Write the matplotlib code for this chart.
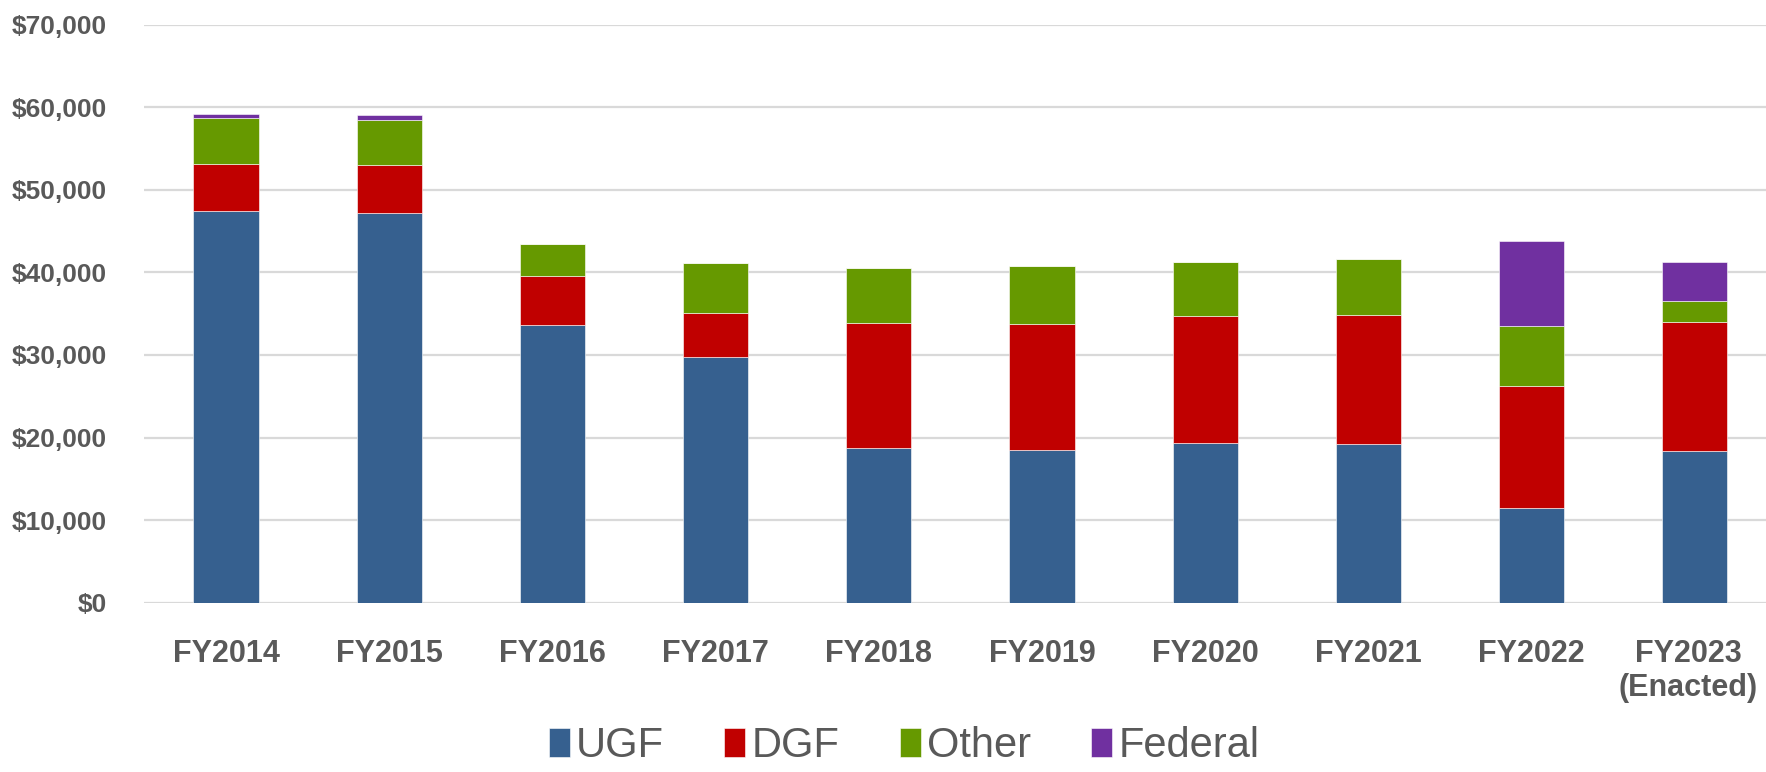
import numpy as np
import matplotlib
matplotlib.use("Agg")
import matplotlib.pyplot as plt
import matplotlib.transforms as mtransforms
from matplotlib.ticker import FuncFormatter

# values ($ thousands)
years = ["FY2014", "FY2015", "FY2016", "FY2017", "FY2018",
         "FY2019", "FY2020", "FY2021", "FY2022", "FY2023\n(Enacted)"]
ugf = [47420, 47180, 33630, 29800, 18750, 18450, 19350, 19190, 11410, 18390]
dgf = [5730, 5850, 5890, 5320, 15080, 15260, 15330, 15610, 14780, 15570]
other = [5520, 5480, 3950, 6050, 6690, 7100, 6570, 6850, 7330, 2580]
federal = [520, 560, 0, 0, 0, 0, 0, 0, 10230, 4670]

series = [("UGF", ugf, "#36608f"), ("DGF", dgf, "#c00000"),
          ("Other", other, "#669900"), ("Federal", federal, "#7030a0")]

plt.rcParams["font.family"] = ["Liberation Sans", "DejaVu Sans"]
grey = "#595959"

fig = plt.figure(figsize=(17.66, 7.72), dpi=100)
ax = fig.add_axes([0.0818, 0.2193, 0.9241, 0.7487])

x = np.arange(len(years))
bottom = np.zeros(len(years))
for name, vals, col in series:
    vals = np.array(vals, dtype=float)
    ax.bar(x, vals, 0.4, bottom=bottom, color=col, label=name,
           edgecolor="white", linewidth=0.4, zorder=3)
    bottom += vals

ax.set_xlim(-0.5, 9.5)
ax.set_ylim(0, 70000)
ax.set_yticks(np.arange(0, 70001, 10000))
ax.yaxis.set_major_formatter(FuncFormatter(lambda v, p: f"${v:,.0f}"))
ax.set_xticks(x)
ax.set_xticklabels(years, linespacing=1.2)

ax.grid(axis="y", color="#d9d9d9", linewidth=1.6, zorder=0)
for s in ax.spines.values():
    s.set_visible(False)
ax.tick_params(axis="both", length=0, colors=grey)
ax.tick_params(axis="y", labelsize=19, pad=27)
ax.tick_params(axis="x", labelsize=22, pad=26)
for lab in ax.get_xticklabels() + ax.get_yticklabels():
    lab.set_fontweight("bold")

# keep the last two-line label inside the figure
last = ax.get_xticklabels()[-1]
last.set_transform(last.get_transform() +
                   mtransforms.ScaledTranslation(-5 / 72, 0, fig.dpi_scale_trans))

leg = fig.legend(loc="lower center", bbox_to_anchor=(0.512, 0.0), ncol=4,
                 frameon=False, fontsize=30, handlelength=0.5, handleheight=0.7,
                 handletextpad=0.15, columnspacing=1.45, borderpad=0.05,
                 borderaxespad=0.1)
for t in leg.get_texts():
    t.set_color(grey)

fig.savefig("out.png", dpi=100)
